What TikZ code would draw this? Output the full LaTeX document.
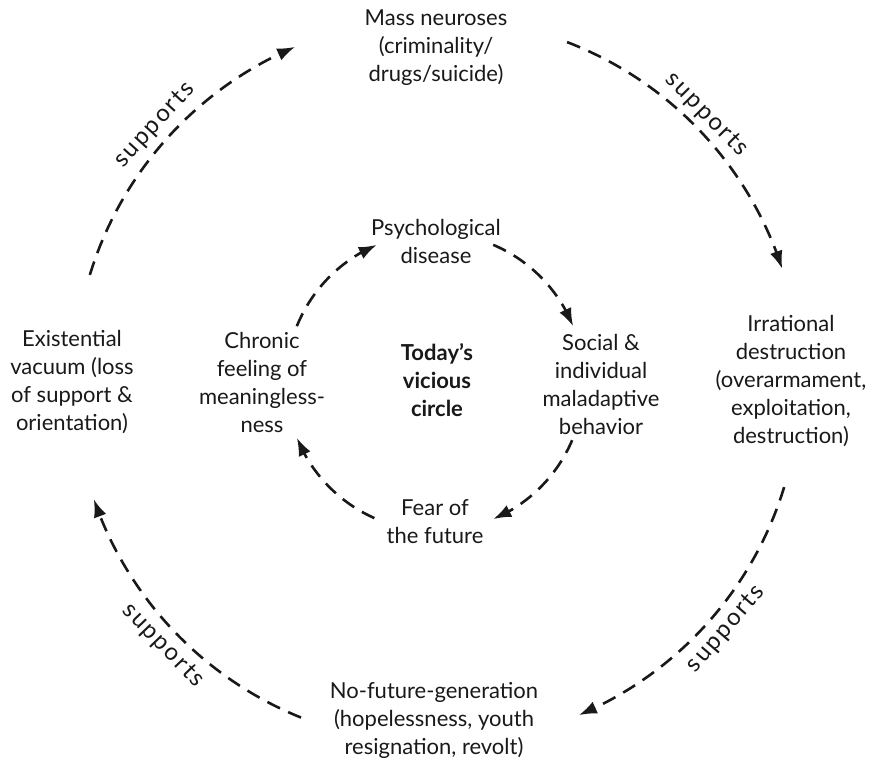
\documentclass[tikz,border=0pt]{standalone}
\usepackage{fontspec}
\setmainfont{Lato}
\newfontfamily\supfont[LetterSpace=9]{Lato}
\usetikzlibrary{arrows.meta,bending,calc}
\newcommand{\labfont}{\fontsize{22}{28}\selectfont}
\newcommand{\supsize}{\supfont\fontsize{24}{28}\selectfont}
\begin{document}
\begin{tikzpicture}[x=1pt,y=1pt,
  txt/.style={align=center, font=\labfont, inner sep=0pt, text=black!90},
  conn/.style={line width=2.6pt, dash pattern=on 14pt off 9pt, draw=black!90,
    -{Latex[length=18pt,width=13pt]}},
  suplab/.style={font=\supsize, inner sep=0pt, text=black!90}
]
\fill[white] (0,0) rectangle (880,766);
\useasboundingbox (0,0) rectangle (880,766);
% centres of the two circles
\coordinate (oc) at (437,385);
\coordinate (ic) at (435,384);
% outer nodes
\node[txt] (mass) at (436,718) {Mass neuroses\\(criminality/\\drugs/suicide)};
\node[txt] (irr) at (791,385) {Irrational\\destruction\\(overarmament,\\exploitation,\\destruction)};
\node[txt] (nofut) at (434,46) {No-future-generation\\(hopelessness, youth\\resignation, revolt)};
\node[txt] (exist) at (72,384) {Existential\\vacuum (loss\\of support \&\\orientation)};
% inner nodes
\node[txt] (psych) at (436,525) {Psychological\\disease};
\node[txt] (social) at (601,382) {Social \&\\individual\\maladaptive\\behavior};
\node[txt] (fear) at (435,244) {Fear of\\the future};
\node[txt] (chronic) at (262,384) {Chronic\\feeling of\\meaningless-\\ness};
\node[txt, font=\labfont\bfseries] (today) at (437,386) {Today’s\\vicious\\circle};
% outer arc end points
\coordinate (o1s) at ($(oc)+(163:363)$);
\coordinate (o2s) at ($(oc)+(69:363)$);
\coordinate (o3s) at ($(oc)+(-17:363)$);
\coordinate (o4s) at ($(oc)+(-112:363)$);
% inner arc end points
\coordinate (i1s) at ($(ic)+(67:149)$);
\coordinate (i2s) at ($(ic)+(-23:149)$);
\coordinate (i3s) at ($(ic)+(-114:149)$);
\coordinate (i4s) at ($(ic)+(158:149)$);
% outer arcs
\draw[conn] (o1s) arc[start angle=163, end angle=113, radius=363];
\draw[conn] (o2s) arc[start angle=69, end angle=18, radius=363];
\draw[conn] (o3s) arc[start angle=-17, end angle=-67, radius=363];
\draw[conn] (o4s) arc[start angle=-112, end angle=-161, radius=363];
% inner arcs
\draw[conn] (i1s) arc[start angle=67, end angle=22, radius=149];
\draw[conn] (i2s) arc[start angle=-23, end angle=-67, radius=149];
\draw[conn] (i3s) arc[start angle=-114, end angle=-158, radius=149];
\draw[conn] (i4s) arc[start angle=158, end angle=113, radius=149];
% supports labels
\node[suplab, rotate=47.8] (sup1) at ($(oc)+(137.8:381)$) {supports};
\node[suplab, rotate=-45.4] (sup2) at ($(oc)+(44.6:379)$) {supports};
\node[suplab, rotate=49.4] (sup3) at ($(oc)+(-40.6:381)$) {supports};
\node[suplab, rotate=-46] (sup4) at ($(oc)+(-136:381)$) {supports};
\end{tikzpicture}
\end{document}
